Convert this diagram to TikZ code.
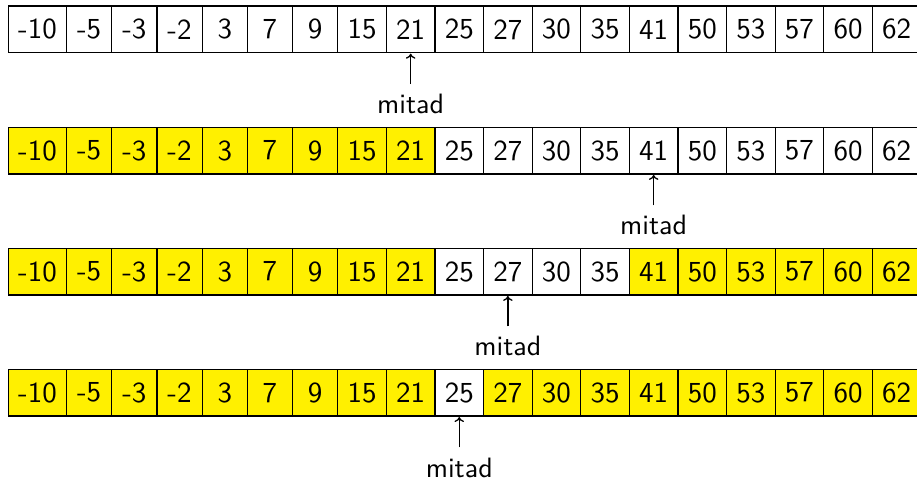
\documentclass[tikz,border=0pt]{standalone}
\usepackage{fontspec}
\usetikzlibrary{arrows.meta}
% Latin Modern Sans at its 10pt design size, scaled up
\newfontfamily\cellfont{lmsans10-regular.otf}
\definecolor{hl}{RGB}{255,240,0}
\begin{document}
\begin{tikzpicture}[x=1pt,y=-1pt,
  cell/.style={draw, line width=1.2pt, inner xsep=9.8pt, inner ysep=0pt,
    minimum width=45.2pt, minimum height=46.7pt, outer sep=0pt, anchor=west,
    font=\cellfont\fontsize{29}{34}\selectfont},
  lbl/.style={inner sep=0pt, anchor=base, font=\cellfont\fontsize{28}{34}\selectfont},
  ptr/.style={line width=1.3pt, -{Computer Modern Rightarrow[width=9.5pt,length=5pt]},
    shorten <=10pt, shorten >=1pt}]
\useasboundingbox (0,0) rectangle (917,481);
\clip (0,0) rectangle (917,481);
% row / top edge / first and last white cell / cell pointed at
\foreach \r/\ty/\lo/\hi/\m in {1/6/1/19/9, 2/127.2/10/19/14, 3/248.2/10/13/11, 4/369.3/10/10/10} {
  \foreach \v [count=\j, remember=\j as \p (initially 0)] in
      {-10,-5,-3,-2,3,7,9,15,21,25,27,30,35,41,50,53,57,60,62} {
    \pgfmathtruncatemacro\isyel{(\j<\lo)||(\j>\hi)}
    \ifnum\isyel=1 \def\fc{hl}\else\def\fc{white}\fi
    \ifnum\j=1
      \node[cell, fill=\fc] (r\r c\j) at (8.3,\ty+23.35) {\v};
    \else
      \node[cell, fill=\fc] (r\r c\j) at (r\r c\p.east) {\v};
    \fi
  }
  \node[lbl] (m\r) at ([yshift=-61pt]r\r c\m.south) {mitad};
  \draw[ptr] (m\r.north) -- (r\r c\m.south);
}
\end{tikzpicture}
\end{document}
